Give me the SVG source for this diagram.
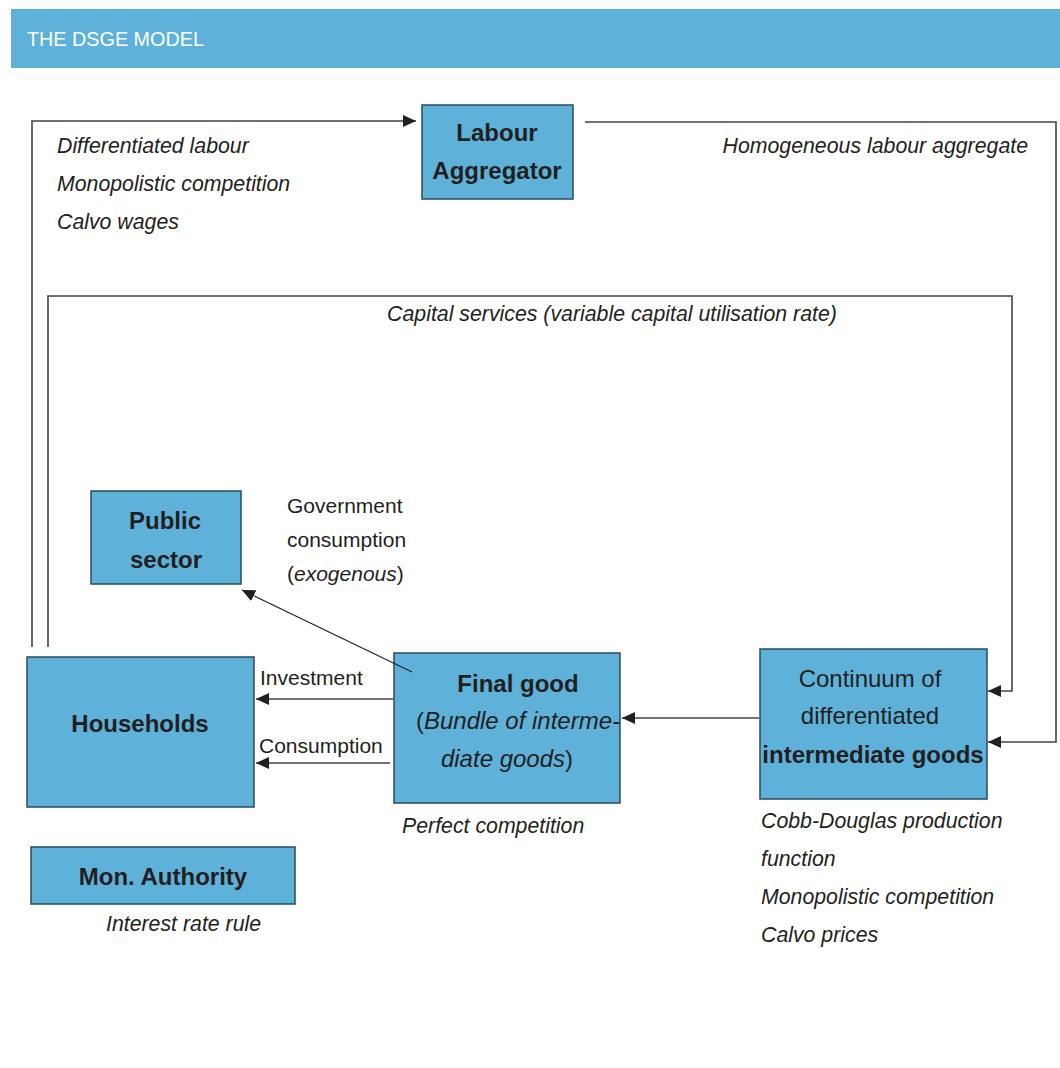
<svg xmlns="http://www.w3.org/2000/svg" width="1060" height="1068" viewBox="0 0 1060 1068">
<style>
.box{fill:#5eb2d9;stroke:#2b4a5c;stroke-width:1.5}
.b{font-family:"Liberation Sans",Arial,sans-serif;font-weight:bold;font-size:24px;fill:#231f20;text-anchor:middle}
.r{font-family:"Liberation Sans",Arial,sans-serif;font-size:21px;fill:#231f20}
.rb{font-family:"Liberation Sans",Arial,sans-serif;font-size:24px;fill:#231f20;text-anchor:middle}
.i{font-family:"Liberation Sans",Arial,sans-serif;font-style:italic;font-size:21.3px;fill:#231f20}
.ln{fill:none;stroke:#444;stroke-width:1.6}
.thin{fill:none;stroke:#231f20;stroke-width:1.1}
</style>
<defs>
<marker id="ah" markerUnits="userSpaceOnUse" markerWidth="14" markerHeight="12" refX="13" refY="6" orient="auto">
<path d="M0,0 L13,6 L0,12 z" fill="#231f20"/>
</marker>
</defs>
<rect width="1060" height="1068" fill="#ffffff"/>
<g id="header">
<rect x="11" y="9" width="1049" height="59" fill="#5eb2d9"/>
<text x="27" y="46" font-family="'Liberation Sans',Arial,sans-serif" font-size="19.8" fill="#ffffff">THE DSGE MODEL</text>
</g>
<g id="labels">
<text class="i" x="57" y="153">Differentiated labour</text>
<text class="i" x="57" y="191">Monopolistic competition</text>
<text class="i" x="57" y="229">Calvo wages</text>
<text class="i" x="1028" y="153" text-anchor="end">Homogeneous labour aggregate</text>
<text class="i" x="612" y="321" text-anchor="middle">Capital services (variable capital utilisation rate)</text>
<text class="r" x="287" y="513">Government</text>
<text class="r" x="287" y="547">consumption</text>
<text class="r" x="287" y="581">(<tspan font-style="italic">exogenous</tspan>)</text>
<text class="r" x="260" y="685">Investment</text>
<text class="r" x="259" y="753">Consumption</text>
<text class="i" x="402" y="833">Perfect competition</text>
<text class="i" x="761" y="828">Cobb-Douglas production</text>
<text class="i" x="761" y="866">function</text>
<text class="i" x="761" y="904">Monopolistic competition</text>
<text class="i" x="761" y="942">Calvo prices</text>
<text class="i" x="106" y="931">Interest rate rule</text>
</g>
<g id="labour-aggregator">
<rect class="box" x="422" y="105" width="151" height="94"/>
<text class="b" x="497" y="141">Labour</text>
<text class="b" x="497" y="179">Aggregator</text>
</g>
<g id="public-sector">
<rect class="box" x="91" y="491" width="150" height="93"/>
<text class="b" x="165" y="529">Public</text>
<text class="b" x="166" y="568">sector</text>
</g>
<g id="households">
<rect class="box" x="27" y="657" width="227" height="150"/>
<text class="b" x="140" y="732">Households</text>
</g>
<g id="final-good">
<rect class="box" x="394" y="653" width="226" height="150"/>
<text class="b" x="518" y="692">Final good</text>
<text class="rb" x="518" y="729">(<tspan font-style="italic">Bundle of interme-</tspan></text>
<text class="rb" x="507" y="767"><tspan font-style="italic">diate goods</tspan>)</text>
</g>
<g id="intermediate-goods">
<rect class="box" x="760" y="649" width="227" height="150"/>
<text class="rb" x="870" y="687">Continuum of</text>
<text class="rb" x="870" y="724">differentiated</text>
<text class="b" x="873" y="763">intermediate goods</text>
</g>
<g id="mon-authority">
<rect class="box" x="31" y="847" width="264" height="57"/>
<text class="b" x="163" y="885">Mon. Authority</text>
</g>
<g id="connectors">
<path class="ln" d="M32,647 V121 H416" marker-end="url(#ah)"/>
<path class="ln" d="M585,122 H1056 V742 H988" marker-end="url(#ah)"/>
<path class="ln" d="M48,647 V296 H1012 V691 H988" marker-end="url(#ah)"/>
<path class="ln" d="M759,718 H622" marker-end="url(#ah)"/>
<path class="ln" d="M393,699 H256" marker-end="url(#ah)"/>
<path class="ln" d="M390,763 H256" marker-end="url(#ah)"/>
<path class="thin" d="M412,672 L242,590" marker-end="url(#ah)"/>
</g>
</svg>
